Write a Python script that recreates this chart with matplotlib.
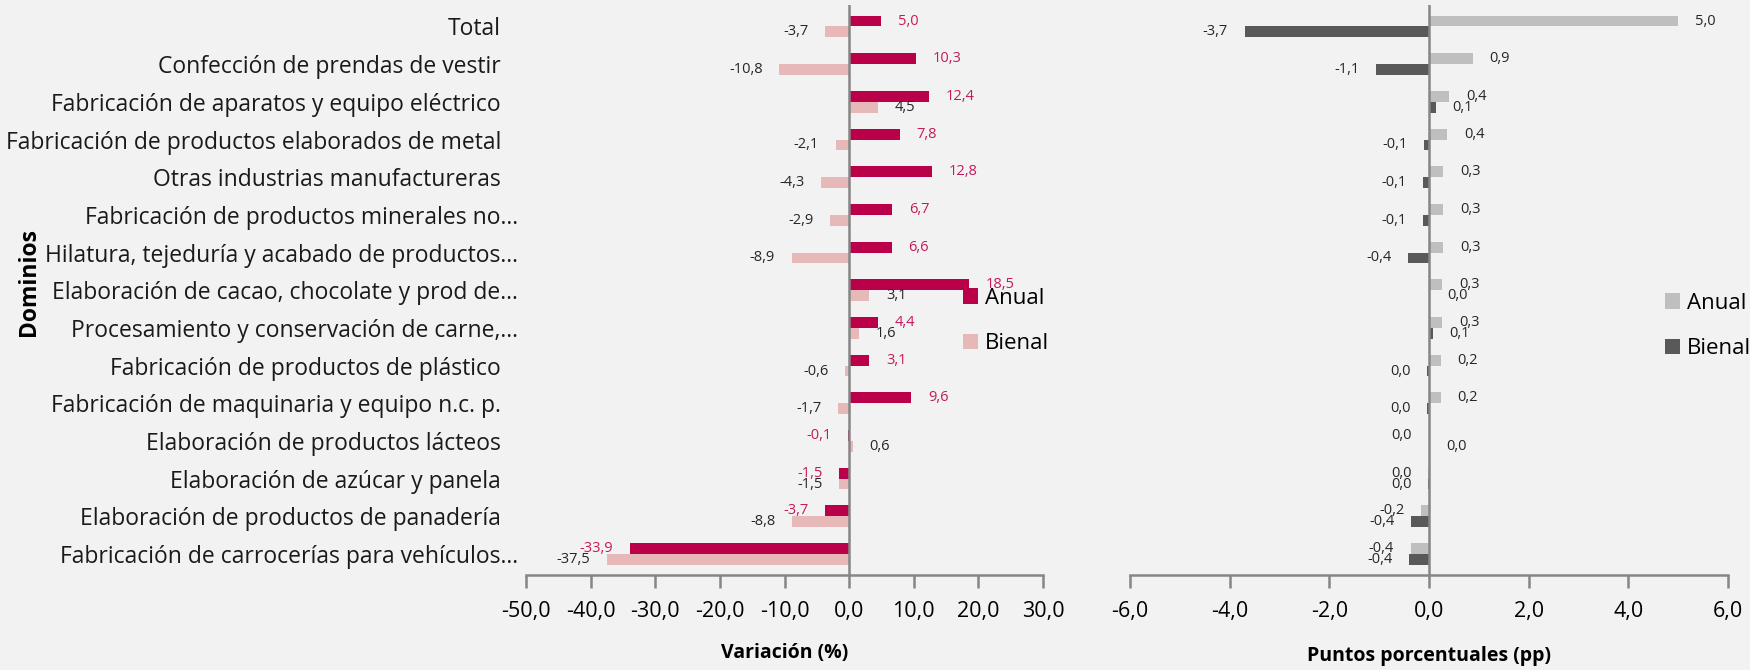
import numpy as np
import matplotlib.pyplot as plt
from matplotlib.transforms import ScaledTranslation

plt.rcParams['font.family'] = ['Open Sans', 'DejaVu Sans']

dominios = ["Total",
            "Confección de prendas de vestir",
            "Fabricación de aparatos y equipo eléctrico",
            "Fabricación de productos elaborados de metal",
            "Otras industrias manufactureras",
            "Fabricación de productos minerales no...",
            "Hilatura, tejeduría y acabado de productos...",
            "Elaboración de cacao, chocolate y prod de...",
            "Procesamiento y conservación de carne,...",
            "Fabricación de productos de plástico",
            "Fabricación de maquinaria y equipo n.c. p.",
            "Elaboración de productos lácteos",
            "Elaboración de azúcar y panela",
            "Elaboración de productos de panadería",
            "Fabricación de carrocerías para vehículos..."]

# variacion (%)
var_anual = [5.0, 10.3, 12.4, 7.8, 12.8, 6.7, 6.6, 18.5, 4.4, 3.1, 9.6, -0.1, -1.5, -3.7, -33.9]
var_bienal = [-3.7, -10.8, 4.5, -2.1, -4.3, -2.9, -8.9, 3.1, 1.6, -0.6, -1.7, 0.6, -1.5, -8.8, -37.5]

# contribucion (pp)
pp_anual = [5.0, 0.88, 0.41, 0.37, 0.29, 0.29, 0.29, 0.27, 0.27, 0.24, 0.24, -0.003, -0.01, -0.16, -0.37]
pp_bienal = [-3.7, -1.06, 0.14, -0.09, -0.12, -0.12, -0.42, 0.03, 0.08, -0.04, -0.03, 0.01, -0.02, -0.36, -0.40]

xt_var = [-50, -40, -30, -20, -10, 0, 10, 20, 30]
xt_pp = [-6, -4, -2, 0, 2, 4, 6]

bg = '#F2F2F2'
axcol = '#868686'
h = 0.29


def fmt(v):
    s = f"{v:.1f}".replace('.', ',')
    if s == '-0,0':
        s = '0,0'
    return s


def put_labels(ax, yy, vals, color):
    for y, v in zip(yy, vals):
        off = 12 if v >= 0 else -12
        ax.annotate(fmt(v), (v, y), xytext=(off, 0), textcoords='offset points',
                    ha='left' if v >= 0 else 'right', va='center',
                    fontsize=10.5, color=color)


def style(ax, ticks):
    ax.set_facecolor(bg)
    for s in ['top', 'right', 'left']:
        ax.spines[s].set_visible(False)
    ax.spines['bottom'].set_color(axcol)
    ax.spines['bottom'].set_linewidth(1.8)
    ax.axvline(0, color=axcol, linewidth=1.8, zorder=3)
    ax.set_xticks(ticks)
    ax.set_xticklabels([f"{t:.1f}".replace('.', ',') for t in ticks], fontsize=15.5)
    ax.tick_params(axis='x', length=9, width=1.8, color=axcol, pad=10)
    ax.set_xlim(ticks[0], ticks[-1])
    ax.set_ylim(14.56, -0.57)


fig = plt.figure(figsize=(17.5, 6.7), dpi=100)
fig.patch.set_facecolor(bg)

y = np.arange(len(dominios))

ax1 = fig.add_axes([0.3006, 0.1418, 0.2954, 0.8507])
ax1.barh(y - h / 2, var_anual, height=h, color='#B90049', label='Anual', zorder=2)
ax1.barh(y + h / 2, var_bienal, height=h, color='#E6B9B8', label='Bienal', zorder=2)
style(ax1, xt_var)
ax1.set_yticks(y)
ax1.set_yticklabels(dominios, fontsize=16.5, color='#1a1a1a')
ax1.tick_params(axis='y', length=0, pad=18)
# truncated labels run a bit further right, as in the original
shift = ScaledTranslation(0.17, 0, fig.dpi_scale_trans)
for lab in ax1.get_yticklabels():
    if lab.get_text().endswith('...'):
        lab.set_transform(lab.get_transform() + shift)
put_labels(ax1, y - h / 2, var_anual, '#C8185C')
put_labels(ax1, y + h / 2, var_bienal, '#262626')
ax1.set_xlabel('Variación (%)', fontsize=14, fontweight='bold', labelpad=15)
ax1.legend(loc='center left', bbox_to_anchor=(963 / 1750, 1 - 321 / 670),
           bbox_transform=fig.transFigure, frameon=False, fontsize=16,
           handlelength=0.68, handleheight=0.68, handletextpad=0.3,
           labelspacing=1.1, borderpad=0, borderaxespad=0)

ax2 = fig.add_axes([0.6457, 0.1418, 0.3417, 0.8507])
ax2.barh(y - h / 2, pp_anual, height=h, color='#BFBFBF', label='Anual', zorder=2)
ax2.barh(y + h / 2, pp_bienal, height=h, color='#595959', label='Bienal', zorder=2)
style(ax2, xt_pp)
ax2.set_yticks([])
put_labels(ax2, y - h / 2, pp_anual, '#262626')
put_labels(ax2, y + h / 2, pp_bienal, '#262626')
ax2.set_xlabel('Puntos porcentuales (pp)', fontsize=14, fontweight='bold', labelpad=17)
ax2.legend(loc='center left', bbox_to_anchor=(1665 / 1750, 1 - 326 / 670),
           bbox_transform=fig.transFigure, frameon=False, fontsize=16,
           handlelength=0.68, handleheight=0.68, handletextpad=0.3,
           labelspacing=1.1, borderpad=0, borderaxespad=0)

fig.text(29 / 1750, 1 - 282 / 670, 'Dominios', rotation=90, fontsize=16.5,
         fontweight='bold', ha='center', va='center')

plt.savefig('out.png', dpi=100, facecolor=bg)
